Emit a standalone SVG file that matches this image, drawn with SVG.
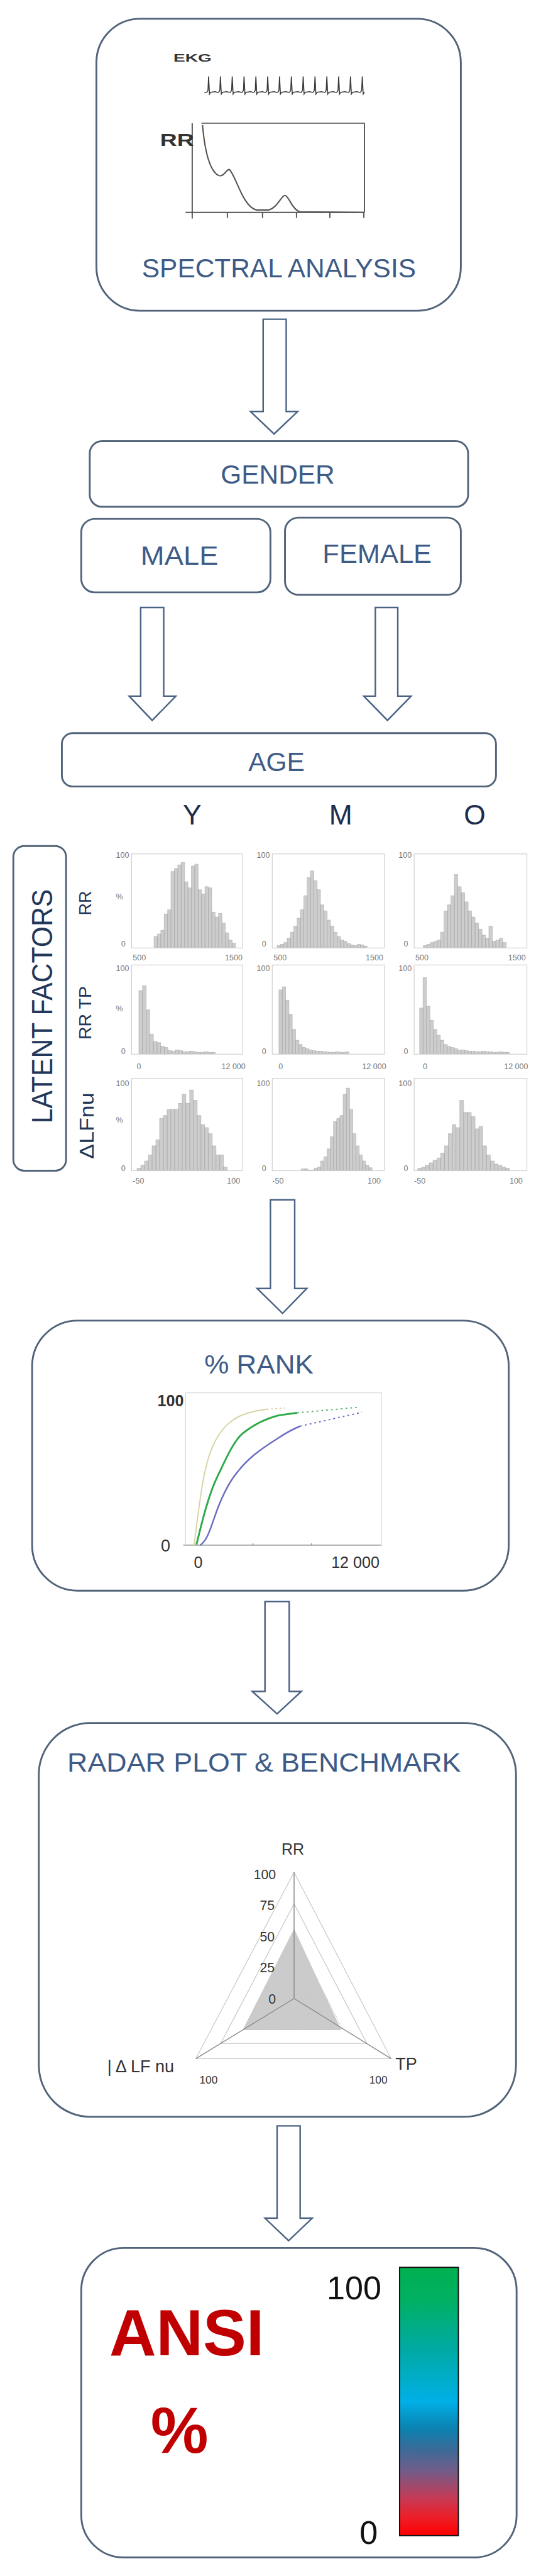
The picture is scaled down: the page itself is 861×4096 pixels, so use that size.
<svg xmlns="http://www.w3.org/2000/svg" width="861" height="4096" viewBox="0 0 861 4096">
<defs>
<style>
.box{fill:#fff;stroke:#51647a;stroke-width:3}
.arrow{fill:#fff;stroke:#4a6283;stroke-width:2.5;stroke-linejoin:miter}
.title{font-family:"Liberation Sans",Arial,sans-serif;font-size:44px;fill:#3e5b86;text-anchor:middle}
.lab{font-family:"Liberation Sans",Arial,sans-serif;fill:#1f2d4d}
.hf{fill:none;stroke:#cfcfcf;stroke-width:1.2}
.hb{fill:#cdcdcd;stroke:#a8a8a8;stroke-width:0.6}
.ht{font-family:"Liberation Sans",Arial,sans-serif;font-size:13px;fill:#777}
.rt{font-family:"Liberation Sans",Arial,sans-serif;fill:#333}
</style>
<linearGradient id="bar" x1="0" y1="0" x2="0" y2="1">
<stop offset="0" stop-color="#00b050"/>
<stop offset="0.12" stop-color="#00b062"/>
<stop offset="0.3" stop-color="#00aaa2"/>
<stop offset="0.5" stop-color="#00b0e6"/>
<stop offset="0.6" stop-color="#0a82b0"/>
<stop offset="0.68" stop-color="#3c6a98"/>
<stop offset="0.76" stop-color="#735c88"/>
<stop offset="0.86" stop-color="#c53a55"/>
<stop offset="0.93" stop-color="#ec1f2a"/>
<stop offset="1" stop-color="#ff0000"/>
</linearGradient>
</defs>
<g transform="scale(0.965)">
<rect width="892" height="4244" fill="#fff"/>

<g id="connectors">
<polygon class="arrow" points="434,526 472,526 472,678 491,678 452,715 413,678 434,678"/>
<polygon class="arrow" points="232,1001 270,1001 270,1147 290,1147 251,1187 213,1147 232,1147"/>
<polygon class="arrow" points="619,1001 656,1001 656,1147 678,1147 639,1187 600,1147 619,1147"/>
<polygon class="arrow" points="446,1977 486,1977 486,2123 506,2123 466,2164 424,2123 446,2123"/>
<polygon class="arrow" points="437,2639 477,2639 477,2787 497,2787 457,2824 416,2787 437,2787"/>
<polygon class="arrow" points="457,3503 495,3503 495,3655 515,3655 476,3692 437,3655 457,3655"/>
</g>

<g id="spectral">
<rect class="box" x="159" y="31" width="601" height="481" rx="72"/>
<text x="286" y="102" font-family="Liberation Sans,Arial,sans-serif" font-weight="bold" font-size="17" fill="#333" textLength="63" lengthAdjust="spacingAndGlyphs">EKG</text>
<path fill="none" stroke="#3a3a3a" stroke-width="1.6" d="M337,152 l4,0 l2,-3 l1,-23 l1.5,29 l2,-3 l7,-1 l4,1 l0,0 l2,0 l2,-3 l1,-23 l1.5,29 l2,-3 l7,-1 l4,1 l2,0 l2,-3 l1,-23 l1.5,29 l2,-3 l7,-1 l4,1 l2,0 l2,-3 l1,-23 l1.5,29 l2,-3 l7,-1 l4,1 l2,0 l2,-3 l1,-23 l1.5,29 l2,-3 l7,-1 l4,1 l2,0 l2,-3 l1,-23 l1.5,29 l2,-3 l7,-1 l4,1 l2,0 l2,-3 l1,-23 l1.5,29 l2,-3 l7,-1 l4,1 l2,0 l2,-3 l1,-23 l1.5,29 l2,-3 l7,-1 l4,1 l2,0 l2,-3 l1,-23 l1.5,29 l2,-3 l7,-1 l4,1 l2,0 l2,-3 l1,-23 l1.5,29 l2,-3 l7,-1 l4,1 l2,0 l2,-3 l1,-23 l1.5,29 l2,-3 l7,-1 l4,1 l2,0 l2,-3 l1,-23 l1.5,29 l2,-3 l7,-1 l4,1 l2,0 l2,-3 l1,-23 l1.5,29 l2,-3 l7,-1 l4,1 l2,0 l2,-3 l1,-23 l1.5,29 l2,-3"/>
<path fill="none" stroke="#555" stroke-width="2" d="M332,203 H601 V350 M317,203 V360 M306,350 H601 M375,350 v9 M433,350 v9 M489,350 v9 M544,350 v9 M600,350 v9"/>
<text x="264" y="240" font-family="Liberation Sans,Arial,sans-serif" font-weight="bold" font-size="28" fill="#333" textLength="56" lengthAdjust="spacingAndGlyphs">RR</text>
<path fill="none" stroke="#555" stroke-width="2.2" d="M334,206 C337,240 344,280 360,289 C370,293 374,276 379,280 C390,292 400,340 423,346 L443,346 C457,343 464,322 470,322 C476,322 482,346 495,349 L600,350"/>
<text class="title" x="460" y="457" textLength="452" lengthAdjust="spacingAndGlyphs">SPECTRAL ANALYSIS</text>
</g>

<g id="gender">
<rect class="box" x="148" y="727" width="624" height="108" rx="20"/>
<text class="title" x="458" y="797" textLength="188" lengthAdjust="spacingAndGlyphs">GENDER</text>
</g>
<g id="male">
<rect class="box" x="134" y="855" width="312" height="121" rx="22"/>
<text class="title" x="296" y="931" textLength="128" lengthAdjust="spacingAndGlyphs">MALE</text>
</g>
<g id="female">
<rect class="box" x="470" y="853" width="290" height="127" rx="22"/>
<text class="title" x="622" y="927" textLength="180" lengthAdjust="spacingAndGlyphs">FEMALE</text>
</g>
<g id="age">
<rect class="box" x="102" y="1208" width="716" height="88" rx="18"/>
<text class="title" x="456" y="1270" textLength="93" lengthAdjust="spacingAndGlyphs">AGE</text>
<text class="lab" x="317" y="1359" font-size="46" text-anchor="middle">Y</text>
<text class="lab" x="562" y="1359" font-size="46" text-anchor="middle">M</text>
<text class="lab" x="783" y="1359" font-size="46" text-anchor="middle">O</text>
</g>

<g id="latent">
<rect class="box" x="22" y="1394" width="87" height="535" rx="18"/>
<text transform="translate(86,1658) rotate(-90)" font-family="Liberation Sans,Arial,sans-serif" font-size="48" fill="#23375a" text-anchor="middle" textLength="386" lengthAdjust="spacingAndGlyphs">LATENT FACTORS</text>
<text transform="translate(150,1488) rotate(-90)" font-family="Liberation Sans,Arial,sans-serif" font-size="28" fill="#1f3658" text-anchor="middle">RR</text>
<text transform="translate(150,1669) rotate(-90)" font-family="Liberation Sans,Arial,sans-serif" font-size="28" fill="#1f3658" text-anchor="middle" textLength="88" lengthAdjust="spacingAndGlyphs">RR TP</text>
<text transform="translate(154,1855) rotate(-90)" font-family="Liberation Sans,Arial,sans-serif" font-size="32" fill="#1f3658" text-anchor="middle" textLength="109" lengthAdjust="spacingAndGlyphs">ΔLFnu</text>
</g>

<g id="histograms">
<rect class="hf" x="217" y="1407" width="183" height="155"/>
<rect class="hf" x="449" y="1407" width="185" height="155"/>
<rect class="hf" x="683" y="1407" width="186" height="155"/>
<rect class="hf" x="217" y="1590" width="183" height="147"/>
<rect class="hf" x="449" y="1590" width="185" height="147"/>
<rect class="hf" x="683" y="1590" width="186" height="147"/>
<rect class="hf" x="217" y="1777" width="183" height="152"/>
<rect class="hf" x="449" y="1777" width="185" height="152"/>
<rect class="hf" x="683" y="1777" width="186" height="152"/>
<path class="hb" d="M254,1561 v-18 h5.6 V1561 z m5.6,0 v-22 h5.6 V1561 z m5.6,0 v-28 h5.6 V1561 z m5.6,0 v-55 h5.6 V1561 z m5.6,0 v-62 h5.6 V1561 z m5.6,0 v-125 h5.6 V1561 z m5.6,0 v-130 h5.6 V1561 z m5.6,0 v-136 h5.6 V1561 z m5.6,0 v-140 h5.6 V1561 z m5.6,0 v-108 h5.6 V1561 z m5.6,0 v-98 h5.6 V1561 z m5.6,0 v-134 h5.6 V1561 z m5.6,0 v-137 h5.6 V1561 z m5.6,0 v-95 h5.6 V1561 z m5.6,0 v-88 h5.6 V1561 z m5.6,0 v-100 h5.6 V1561 z m5.6,0 v-98 h5.6 V1561 z m5.6,0 v-58 h5.6 V1561 z m5.6,0 v-50 h5.6 V1561 z m5.6,0 v-56 h5.6 V1561 z m5.6,0 v-40 h5.6 V1561 z m5.6,0 v-24 h5.6 V1561 z m5.6,0 v-12 h5.6 V1561 z m5.6,0 v-7 h5.6 V1561 z"/>
<path class="hb" d="M457,1561 v-3 h5.5 V1561 z m5.5,0 v-5 h5.5 V1561 z m5.5,0 v-8 h5.5 V1561 z m5.5,0 v-15 h5.5 V1561 z m5.5,0 v-25 h5.5 V1561 z m5.5,0 v-35 h5.5 V1561 z m5.5,0 v-48 h5.5 V1561 z m5.5,0 v-62 h5.5 V1561 z m5.5,0 v-85 h5.5 V1561 z m5.5,0 v-115 h5.5 V1561 z m5.5,0 v-126 h5.5 V1561 z m5.5,0 v-110 h5.5 V1561 z m5.5,0 v-95 h5.5 V1561 z m5.5,0 v-70 h5.5 V1561 z m5.5,0 v-60 h5.5 V1561 z m5.5,0 v-45 h5.5 V1561 z m5.5,0 v-35 h5.5 V1561 z m5.5,0 v-25 h5.5 V1561 z m5.5,0 v-18 h5.5 V1561 z m5.5,0 v-12 h5.5 V1561 z m5.5,0 v-10 h5.5 V1561 z m5.5,0 v-6 h5.5 V1561 z m5.5,0 v-4 h5.5 V1561 z m5.5,0 v-3 h5.5 V1561 z m5.5,0 v-5 h5.5 V1561 z m5.5,0 v-4 h5.5 V1561 z m5.5,0 v-2 h5.5 V1561 z"/>
<path class="hb" d="M698,1561 v-3 h5.7 V1561 z m5.7,0 v-5 h5.7 V1561 z m5.7,0 v-8 h5.7 V1561 z m5.7,0 v-10 h5.7 V1561 z m5.7,0 v-12 h5.7 V1561 z m5.7,0 v-25 h5.7 V1561 z m5.7,0 v-60 h5.7 V1561 z m5.7,0 v-70 h5.7 V1561 z m5.7,0 v-85 h5.7 V1561 z m5.7,0 v-120 h5.7 V1561 z m5.7,0 v-100 h5.7 V1561 z m5.7,0 v-90 h5.7 V1561 z m5.7,0 v-75 h5.7 V1561 z m5.7,0 v-60 h5.7 V1561 z m5.7,0 v-50 h5.7 V1561 z m5.7,0 v-40 h5.7 V1561 z m5.7,0 v-30 h5.7 V1561 z m5.7,0 v-20 h5.7 V1561 z m5.7,0 v-15 h5.7 V1561 z m5.7,0 v-35 h5.7 V1561 z m5.7,0 v-10 h5.7 V1561 z m5.7,0 v-12 h5.7 V1561 z m5.7,0 v-15 h5.7 V1561 z m5.7,0 v-8 h5.7 V1561 z"/>
<path class="hb" d="M229,1736 v-104 h6 V1736 z m6,0 v-112 h6 V1736 z m6,0 v-72 h6 V1736 z m6,0 v-32 h6 V1736 z m6,0 v-20 h6 V1736 z m6,0 v-18 h6 V1736 z m6,0 v-12 h6 V1736 z m6,0 v-10 h6 V1736 z m6,0 v-5 h6 V1736 z m6,0 v-4 h6 V1736 z m6,0 v-6 h6 V1736 z m6,0 v-5 h6 V1736 z m6,0 v-3 h6 V1736 z m6,0 v-3 h6 V1736 z m6,0 v-4 h6 V1736 z m6,0 v-3 h6 V1736 z m6,0 v-2 h6 V1736 z m6,0 v-2 h6 V1736 z m6,0 v-3 h6 V1736 z m6,0 v-2 h6 V1736 z m6,0 v-2 h6 V1736 z"/>
<path class="hb" d="M460,1736 v-105 h5.5 V1736 z m5.5,0 v-110 h5.5 V1736 z m5.5,0 v-88 h5.5 V1736 z m5.5,0 v-65 h5.5 V1736 z m5.5,0 v-40 h5.5 V1736 z m5.5,0 v-22 h5.5 V1736 z m5.5,0 v-15 h5.5 V1736 z m5.5,0 v-10 h5.5 V1736 z m5.5,0 v-8 h5.5 V1736 z m5.5,0 v-6 h5.5 V1736 z m5.5,0 v-5 h5.5 V1736 z m5.5,0 v-4 h5.5 V1736 z m5.5,0 v-4 h5.5 V1736 z m5.5,0 v-3 h5.5 V1736 z m5.5,0 v-3 h5.5 V1736 z m5.5,0 v-2 h5.5 V1736 z m5.5,0 v-2 h5.5 V1736 z m5.5,0 v-3 h5.5 V1736 z m5.5,0 v-2 h5.5 V1736 z m5.5,0 v-2 h5.5 V1736 z m5.5,0 v-3 h5.5 V1736 z"/>
<path class="hb" d="M692,1736 v-75 h5.7 V1736 z m5.7,0 v-125 h5.7 V1736 z m5.7,0 v-78 h5.7 V1736 z m5.7,0 v-55 h5.7 V1736 z m5.7,0 v-40 h5.7 V1736 z m5.7,0 v-30 h5.7 V1736 z m5.7,0 v-22 h5.7 V1736 z m5.7,0 v-15 h5.7 V1736 z m5.7,0 v-12 h5.7 V1736 z m5.7,0 v-10 h5.7 V1736 z m5.7,0 v-8 h5.7 V1736 z m5.7,0 v-6 h5.7 V1736 z m5.7,0 v-6 h5.7 V1736 z m5.7,0 v-5 h5.7 V1736 z m5.7,0 v-4 h5.7 V1736 z m5.7,0 v-4 h5.7 V1736 z m5.7,0 v-3 h5.7 V1736 z m5.7,0 v-3 h5.7 V1736 z m5.7,0 v-4 h5.7 V1736 z m5.7,0 v-3 h5.7 V1736 z m5.7,0 v-3 h5.7 V1736 z m5.7,0 v-2 h5.7 V1736 z m5.7,0 v-2 h5.7 V1736 z m5.7,0 v-3 h5.7 V1736 z m5.7,0 v-2 h5.7 V1736 z m5.7,0 v-2 h5.7 V1736 z"/>
<path class="hb" d="M226,1928 v-3 h6.2 V1928 z m6.2,0 v-8 h6.2 V1928 z m6.2,0 v-15 h6.2 V1928 z m6.2,0 v-25 h6.2 V1928 z m6.2,0 v-40 h6.2 V1928 z m6.2,0 v-50 h6.2 V1928 z m6.2,0 v-85 h6.2 V1928 z m6.2,0 v-90 h6.2 V1928 z m6.2,0 v-100 h6.2 V1928 z m6.2,0 v-100 h6.2 V1928 z m6.2,0 v-100 h6.2 V1928 z m6.2,0 v-110 h6.2 V1928 z m6.2,0 v-125 h6.2 V1928 z m6.2,0 v-110 h6.2 V1928 z m6.2,0 v-132 h6.2 V1928 z m6.2,0 v-115 h6.2 V1928 z m6.2,0 v-90 h6.2 V1928 z m6.2,0 v-75 h6.2 V1928 z m6.2,0 v-70 h6.2 V1928 z m6.2,0 v-60 h6.2 V1928 z m6.2,0 v-40 h6.2 V1928 z m6.2,0 v-25 h6.2 V1928 z m6.2,0 v-25 h6.2 V1928 z m6.2,0 v-5 h6.2 V1928 z"/>
<path class="hb" d="M497,1928 v-2 h5.3 V1928 z m5.3,0 v-2 h5.3 V1928 z m5.3,0 v0 h5.3 V1928 z m5.3,0 v0 h5.3 V1928 z m5.3,0 v-3 h5.3 V1928 z m5.3,0 v-5 h5.3 V1928 z m5.3,0 v-15 h5.3 V1928 z m5.3,0 v-22 h5.3 V1928 z m5.3,0 v-35 h5.3 V1928 z m5.3,0 v-55 h5.3 V1928 z m5.3,0 v-80 h5.3 V1928 z m5.3,0 v-85 h5.3 V1928 z m5.3,0 v-90 h5.3 V1928 z m5.3,0 v-125 h5.3 V1928 z m5.3,0 v-135 h5.3 V1928 z m5.3,0 v-100 h5.3 V1928 z m5.3,0 v-60 h5.3 V1928 z m5.3,0 v-40 h5.3 V1928 z m5.3,0 v-25 h5.3 V1928 z m5.3,0 v-15 h5.3 V1928 z m5.3,0 v-8 h5.3 V1928 z m5.3,0 v-4 h5.3 V1928 z"/>
<path class="hb" d="M689,1928 v-3 h6.3 V1928 z m6.3,0 v-5 h6.3 V1928 z m6.3,0 v-8 h6.3 V1928 z m6.3,0 v-12 h6.3 V1928 z m6.3,0 v-16 h6.3 V1928 z m6.3,0 v-20 h6.3 V1928 z m6.3,0 v-28 h6.3 V1928 z m6.3,0 v-40 h6.3 V1928 z m6.3,0 v-60 h6.3 V1928 z m6.3,0 v-75 h6.3 V1928 z m6.3,0 v-70 h6.3 V1928 z m6.3,0 v-115 h6.3 V1928 z m6.3,0 v-95 h6.3 V1928 z m6.3,0 v-95 h6.3 V1928 z m6.3,0 v-88 h6.3 V1928 z m6.3,0 v-68 h6.3 V1928 z m6.3,0 v-72 h6.3 V1928 z m6.3,0 v-40 h6.3 V1928 z m6.3,0 v-25 h6.3 V1928 z m6.3,0 v-15 h6.3 V1928 z m6.3,0 v-10 h6.3 V1928 z m6.3,0 v-8 h6.3 V1928 z m6.3,0 v-5 h6.3 V1928 z m6.3,0 v-3 h6.3 V1928 z"/>
<g class="ht">
<text x="213" y="1413" text-anchor="end">100</text><text x="197" y="1482" text-anchor="middle">%</text><text x="207" y="1560" text-anchor="end">0</text>
<text x="445" y="1413" text-anchor="end">100</text><text x="439" y="1560" text-anchor="end">0</text>
<text x="679" y="1413" text-anchor="end">100</text><text x="673" y="1560" text-anchor="end">0</text>
<text x="219" y="1582">500</text><text x="400" y="1582" text-anchor="end">1500</text>
<text x="451" y="1582">500</text><text x="632" y="1582" text-anchor="end">1500</text>
<text x="685" y="1582">500</text><text x="867" y="1582" text-anchor="end">1500</text>
<text x="213" y="1600" text-anchor="end">100</text><text x="197" y="1666" text-anchor="middle">%</text><text x="207" y="1737" text-anchor="end">0</text>
<text x="445" y="1600" text-anchor="end">100</text><text x="439" y="1737" text-anchor="end">0</text>
<text x="679" y="1600" text-anchor="end">100</text><text x="673" y="1737" text-anchor="end">0</text>
<text x="229" y="1762" text-anchor="middle">0</text><text x="405" y="1762" text-anchor="end">12 000</text>
<text x="463" y="1762" text-anchor="middle">0</text><text x="637" y="1762" text-anchor="end">12 000</text>
<text x="701" y="1762" text-anchor="middle">0</text><text x="871" y="1762" text-anchor="end">12 000</text>
<text x="213" y="1790" text-anchor="end">100</text><text x="197" y="1850" text-anchor="middle">%</text><text x="207" y="1930" text-anchor="end">0</text>
<text x="445" y="1790" text-anchor="end">100</text><text x="439" y="1930" text-anchor="end">0</text>
<text x="679" y="1790" text-anchor="end">100</text><text x="673" y="1930" text-anchor="end">0</text>
<text x="219" y="1950">-50</text><text x="396" y="1950" text-anchor="end">100</text>
<text x="449" y="1950">-50</text><text x="628" y="1950" text-anchor="end">100</text>
<text x="683" y="1950">-50</text><text x="862" y="1950" text-anchor="end">100</text>
</g>
</g>

<g id="rank">
<rect class="box" x="53" y="2176" width="786" height="445" rx="75"/>
<text class="title" x="427" y="2263" textLength="180" lengthAdjust="spacingAndGlyphs">% RANK</text>
<rect x="306" y="2295" width="323" height="251" fill="none" stroke="#d6d6d6" stroke-width="1.2"/>
<path fill="none" stroke="#888" stroke-width="1.5" d="M302,2546 H629 M417,2546 v-3 M514,2546 v-3"/>
<path fill="none" stroke="#d7d3a2" stroke-width="2" d="M320,2546 C330,2470 335,2420 350,2385 C365,2350 385,2335 410,2328 C420,2325 430,2323 440,2322"/>
<path fill="none" stroke="#d7d3a2" stroke-width="2" stroke-dasharray="3,4" d="M440,2322 L470,2320"/>
<path fill="none" stroke="#2eaa4a" stroke-width="3" d="M324,2545 C335,2500 345,2460 360,2430 C372,2405 385,2375 400,2362 C420,2346 440,2337 460,2332 L490,2328"/>
<path fill="none" stroke="#5bb86a" stroke-width="2" stroke-dasharray="3,5" d="M490,2328 L589,2319"/>
<path fill="none" stroke="#6a6cc0" stroke-width="2.5" d="M330,2546 C340,2540 345,2525 352,2505 C362,2475 375,2445 392,2425 C410,2402 430,2388 455,2372 C470,2362 482,2355 495,2350"/>
<path fill="none" stroke="#6a6cc0" stroke-width="2" stroke-dasharray="3,5" d="M495,2350 L597,2327"/>
<text class="rt" x="303" y="2317" font-size="26" font-weight="bold" text-anchor="end">100</text>
<text class="rt" x="273" y="2556" font-size="28" text-anchor="middle">0</text>
<text class="rt" x="327" y="2583" font-size="26" text-anchor="middle">0</text>
<text class="rt" x="586" y="2583" font-size="26" text-anchor="middle">12 000</text>
</g>

<g id="radar">
<rect class="box" x="64" y="2839" width="787" height="649" rx="85"/>
<text class="title" x="111" y="2919" style="text-anchor:start" textLength="649" lengthAdjust="spacingAndGlyphs">RADAR PLOT &amp; BENCHMARK</text>
<polygon points="485,3178 400,3345 563,3345" fill="#cbcbcb"/>
<g fill="none" stroke="#c9c9c9" stroke-width="1.3">
<polygon points="485,3085 323,3392 645,3392"/>
<polygon points="485,3137 364,3367 605,3367"/>
<polygon points="485,3189 404,3343 565,3343" stroke-dasharray="2,2"/>
<polygon points="485,3241 444,3318 525,3318" stroke-dasharray="2,2"/>
</g>
<path fill="none" stroke="#8a8a8a" stroke-width="1.5" d="M485,3293 V3085 M485,3293 L323,3392 M485,3293 L645,3392"/>
<text class="rt" x="483" y="3056" font-size="26" text-anchor="middle">RR</text>
<g class="rt" font-size="22" text-anchor="end">
<text x="455" y="3096">100</text>
<text x="453" y="3147">75</text>
<text x="453" y="3199">50</text>
<text x="453" y="3250">25</text>
<text x="455" y="3302">0</text>
</g>
<text class="rt" x="177" y="3414" font-size="28">| Δ LF nu</text>
<text class="rt" x="344" y="3433" font-size="18" text-anchor="middle">100</text>
<text class="rt" x="624" y="3433" font-size="18" text-anchor="middle">100</text>
<text class="rt" x="652" y="3410" font-size="28">TP</text>
</g>

<g id="ansi">
<rect class="box" x="134" y="3704" width="718" height="510" rx="70"/>
<text x="308" y="3881" font-family="Liberation Sans,Arial,sans-serif" font-weight="bold" font-size="107" fill="#c00000" text-anchor="middle">ANSI</text>
<text x="296" y="4041" font-family="Liberation Sans,Arial,sans-serif" font-weight="bold" font-size="107" fill="#c00000" text-anchor="middle">%</text>
<rect x="659" y="3736" width="97" height="442" fill="url(#bar)" stroke="#111" stroke-width="2"/>
<text x="584" y="3789" font-family="Liberation Sans,Arial,sans-serif" font-size="54" fill="#111" text-anchor="middle">100</text>
<text x="608" y="4192" font-family="Liberation Sans,Arial,sans-serif" font-size="54" fill="#111" text-anchor="middle">0</text>
</g>
</g>
</svg>
